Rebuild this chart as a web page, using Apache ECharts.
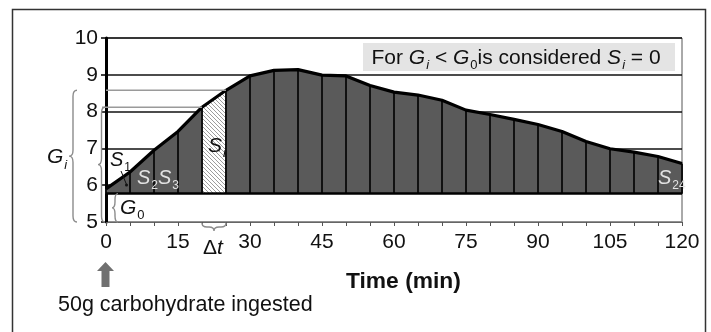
<!DOCTYPE html>
<html>
<head>
<meta charset="utf-8">
<script src="https://cdn.jsdelivr.net/npm/echarts@6/dist/echarts.min.js"></script>
<style>
  html, body { margin: 0; padding: 0; background: #fff; }
  #chart { width: 711px; height: 332px; }
</style>
</head>
<body>
<div id="chart"></div>
<script>
// glucose readings every 5 min after ingestion (mmol/L)
const times = [0, 5, 10, 15, 20, 25, 30, 35, 40, 45, 50, 55, 60, 65, 70, 75, 80, 85, 90, 95, 100, 105, 110, 115, 120];
const glucose = [5.90, 6.36, 6.95, 7.46, 8.12, 8.58, 8.97, 9.12, 9.14, 8.99, 8.97, 8.71, 8.53, 8.45, 8.31, 8.04, 7.92, 7.79, 7.65, 7.46, 7.19, 6.99, 6.90, 6.78, 6.59];
const fastingLevel = 5.77;        // G0
const hatchedStep = [20, 25];     // the S_i strip
const xLabelStep = 15;

const FONT = '"Liberation Sans", Arial, Helvetica, sans-serif';

const points = times.map((t, i) => [t, glucose[i]]);
const hatchedPoints = points.filter(p => p[0] >= hatchedStep[0] && p[0] <= hatchedStep[1]);
const gAt = t => glucose[times.indexOf(t)];

function hatchPattern() {
  const c = document.createElement('canvas');
  c.width = 8; c.height = 8;
  const ctx = c.getContext('2d');
  ctx.fillStyle = '#fff';
  ctx.fillRect(0, 0, 8, 8);
  ctx.strokeStyle = '#9c9c9c';
  ctx.lineWidth = 1;
  for (let k = -8; k <= 8; k += 4) {
    ctx.beginPath();
    ctx.moveTo(k, 0);
    ctx.lineTo(k + 8, 8);
    ctx.stroke();
  }
  return c;
}

// "{" brace, tip on the left
function vBrace(x, y1, y2, w) {
  const xm = x + w / 2, xe = x + w, ym = (y1 + y2) / 2, r = Math.min(6, (y2 - y1) / 4);
  return `M${xe},${y1} Q${xm},${y1} ${xm},${y1 + r} L${xm},${ym - r} Q${xm},${ym} ${x},${ym} ` +
         `Q${xm},${ym} ${xm},${ym + r} L${xm},${y2 - r} Q${xm},${y2} ${xe},${y2}`;
}
// brace under the axis, tip pointing down
function hBrace(x1, x2, y, h) {
  const ym = y + h / 2, yt = y + h, xm = (x1 + x2) / 2, r = Math.min(5, (x2 - x1) / 4);
  return `M${x1},${y} Q${x1},${ym} ${x1 + r},${ym} L${xm - r},${ym} Q${xm},${ym} ${xm},${yt} ` +
         `Q${xm},${ym} ${xm + r},${ym} L${x2 - r},${ym} Q${x2},${ym} ${x2},${y}`;
}

// text with italics and subscripts, laid out piece by piece
const measureCtx = document.createElement('canvas').getContext('2d');
function mathText(x, y, pieces, size, color) {
  const children = [];
  let cx = x;
  const subSize = Math.round(size * 0.62);
  pieces.forEach(([text, kind]) => {
    const sub = kind === 'sb' || kind === 'si';
    const italic = kind === 'it' || kind === 'si';
    const s = sub ? subSize : size;
    const font = (italic ? 'italic ' : '') + s + 'px ' + FONT;
    const cy = sub ? y + 0.57 * size - 0.35 * s : y;
    children.push({
      type: 'text', x: cx, y: cy, z: 100,
      style: { text: text, font: font, fill: color || '#111', align: 'left', verticalAlign: 'middle' }
    });
    measureCtx.font = font;
    cx += measureCtx.measureText(text).width + (italic && !sub ? 1 : 0);
  });
  return { type: 'group', z: 100, children: children };
}

const chart = echarts.init(document.getElementById('chart'));

const braceStyle = { fill: 'none', stroke: '#8c8c8c', lineWidth: 1.4 };
const light = '#e2e2e2';

const option = {
  animation: false,
  grid: { left: 106, right: 29, top: 38, bottom: 110, show: true, borderColor: '#555', borderWidth: 1 },
  xAxis: {
    type: 'value', min: 0, max: 120, interval: 5,
    axisLine: { lineStyle: { color: '#666', width: 1 } },
    axisTick: { show: true, length: 4, lineStyle: { color: '#555' } },
    splitLine: { show: false },
    axisLabel: {
      margin: 10, fontSize: 21, color: '#111', fontFamily: FONT,
      formatter: v => (v % xLabelStep === 0 ? String(v) : '')
    }
  },
  yAxis: {
    type: 'value', min: 5, max: 10, interval: 1,
    axisLine: { show: true, lineStyle: { color: '#000', width: 3 } },
    axisTick: { show: true, length: 5, lineStyle: { color: '#000', width: 1.5 } },
    splitLine: { show: true, lineStyle: { color: ['#888', '#111', '#111', '#111', '#111', '#111'], width: 1.5 } },
    axisLabel: { margin: 8, fontSize: 21, color: '#111', fontFamily: FONT }
  },
  series: [
    {
      name: 'area', type: 'line', data: points, symbol: 'none', z: 2,
      lineStyle: { width: 0 },
      areaStyle: { color: '#5a5a5a', opacity: 1, origin: fastingLevel }
    },
    {
      name: 'hatch', type: 'line', data: hatchedPoints, symbol: 'none', z: 3,
      lineStyle: { width: 0 },
      areaStyle: { color: { image: hatchPattern(), repeat: 'repeat' }, opacity: 1, origin: fastingLevel }
    },
    {
      name: 'steps', type: 'custom', data: points, z: 4, silent: true,
      renderItem: (params, api) => {
        const top = api.coord([api.value(0), api.value(1)]);
        const bottom = api.coord([api.value(0), fastingLevel]);
        return {
          type: 'line',
          shape: { x1: top[0], y1: top[1], x2: bottom[0], y2: bottom[1] },
          style: { stroke: '#111', lineWidth: 2 }
        };
      }
    },
    {
      name: 'curve', type: 'line', data: points, symbol: 'none', z: 5,
      lineStyle: { color: '#000', width: 3.2 },
      markLine: {
        silent: true, symbol: 'none', label: { show: false },
        lineStyle: { color: '#000', width: 2.5, type: 'solid' },
        data: [{ yAxis: fastingLevel }]
      }
    },
    {
      name: 'notes', type: 'custom', data: [[0, 5]], z: 6, silent: true,
      renderItem: (params, api) => {
        const axisX = api.coord([0, 5])[0];
        const yBottom = api.coord([0, 5])[1];
        const p20 = api.coord([hatchedStep[0], gAt(hatchedStep[0])]);
        const p25 = api.coord([hatchedStep[1], gAt(hatchedStep[1])]);
        const yG0 = api.coord([0, fastingLevel])[1];
        const gray = { stroke: '#9a9a9a', lineWidth: 1.5 };
        return {
          type: 'group',
          children: [
            { type: 'line', shape: { x1: axisX - 4, y1: p20[1], x2: p20[0], y2: p20[1] }, style: gray },
            { type: 'line', shape: { x1: axisX, y1: p25[1], x2: p25[0], y2: p25[1] }, style: gray },
            { type: 'path', shape: { pathData: vBrace(axisX - 37, p25[1], yBottom, 8) }, style: braceStyle },
            { type: 'path', shape: { pathData: vBrace(axisX - 8, p20[1], yBottom, 7) }, style: braceStyle },
            { type: 'path', shape: { pathData: vBrace(axisX + 6, yG0, yBottom, 6) }, style: braceStyle },
            { type: 'path', shape: { pathData: hBrace(p20[0], p25[0], yBottom + 1, 8) }, style: braceStyle }
          ]
        };
      }
    }
  ],
  graphic: [
    { type: 'rect', shape: { x: 12.5, y: 9.5, width: 693, height: 340 }, style: { fill: 'none', stroke: '#333', lineWidth: 1.5 }, z: 0 },
    { type: 'rect', shape: { x: 363, y: 43, width: 312, height: 28 }, style: { fill: '#e4e4e4' }, z: 50 },
    mathText(371.5, 58.3, [['For ', 'n'], ['G', 'it'], ['i', 'si'], [' < ', 'n'], ['G', 'it'], ['0', 'sb'], ['is considered ', 'n'], ['S', 'it'], ['i', 'si'], [' = 0', 'n']], 21),
    mathText(47, 157.5, [['G', 'it'], ['i', 'si']], 21),
    mathText(110, 160, [['S', 'it'], ['1', 'sb']], 20),
    mathText(137, 178.3, [['S', 'it'], ['2', 'sb']], 20, light),
    mathText(158, 178.3, [['S', 'it'], ['3', 'sb']], 20, light),
    mathText(208, 145.7, [['S', 'it'], ['i', 'si']], 21),
    mathText(120, 208.3, [['G', 'it'], ['0', 'sb']], 21),
    mathText(658, 178.3, [['S', 'it'], ['24', 'sb']], 20, light),
    mathText(203, 248.3, [['Δ', 'n'], ['t', 'it']], 21),
    { type: 'line', shape: { x1: 121, y1: 171, x2: 126.5, y2: 184.5 }, style: { stroke: '#111', lineWidth: 1 }, z: 100 },
    { type: 'circle', shape: { cx: 126.5, cy: 185, r: 1.5 }, style: { fill: '#111' }, z: 100 },
    {
      type: 'polygon', z: 100,
      shape: { points: [[105.5, 262], [114, 271], [109.5, 271], [109.5, 287], [101.5, 287], [101.5, 271], [97, 271]] },
      style: { fill: '#707070' }
    },
    { type: 'text', x: 58, y: 305.3, z: 100, style: { text: '50g carbohydrate ingested', font: '21.5px ' + FONT, fill: '#111', verticalAlign: 'middle' } },
    { type: 'text', x: 346, y: 281.7, z: 100, style: { text: 'Time (min)', font: 'bold 22.8px ' + FONT, fill: '#111', verticalAlign: 'middle' } }
  ]
};

chart.setOption(option);
</script>
</body>
</html>
